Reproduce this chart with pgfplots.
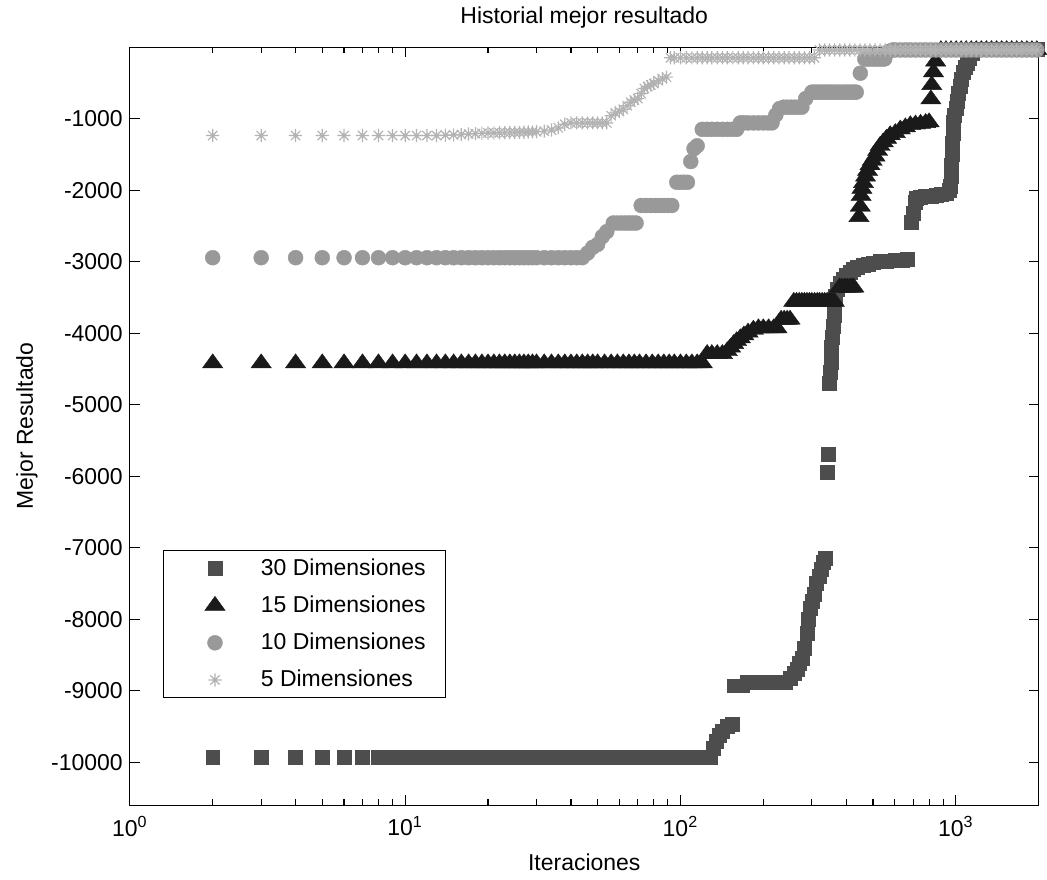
\documentclass[border=0pt]{standalone}
\usepackage{fontspec}
\setmainfont{Liberation Sans}
\usepackage{pgfplots}
\pgfplotsset{compat=1.18}
\definecolor{cA}{HTML}{4D4D4D}
\definecolor{cB}{HTML}{1A1A1A}
\definecolor{cC}{HTML}{999999}
\definecolor{cD}{HTML}{B3B3B3}
\newcommand\fs{\fontsize{11.5}{13}\selectfont}
% MATLAB-like asterisk: plus and cross
\pgfdeclareplotmark{mstar}{%
  \pgfpathmoveto{\pgfqpoint{0pt}{\pgfplotmarksize}}\pgfpathlineto{\pgfqpoint{0pt}{-\pgfplotmarksize}}%
  \pgfpathmoveto{\pgfqpoint{\pgfplotmarksize}{0pt}}\pgfpathlineto{\pgfqpoint{-\pgfplotmarksize}{0pt}}%
  \pgfpathmoveto{\pgfqpoint{0.707\pgfplotmarksize}{0.707\pgfplotmarksize}}\pgfpathlineto{\pgfqpoint{-0.707\pgfplotmarksize}{-0.707\pgfplotmarksize}}%
  \pgfpathmoveto{\pgfqpoint{-0.707\pgfplotmarksize}{0.707\pgfplotmarksize}}\pgfpathlineto{\pgfqpoint{0.707\pgfplotmarksize}{-0.707\pgfplotmarksize}}%
  \pgfusepathqstroke}
\begin{document}
\begin{tikzpicture}
\begin{axis}[name=ax,
  xmode=log, scale only axis, width=455pt, height=379.5pt,
  xmin=1, xmax=2000, ymin=-10600, ymax=0,
  scaled ticks=false,
  xtick={1,10,100,1000},
  xticklabels={10\textsuperscript{0},10\textsuperscript{1},10\textsuperscript{2},10\textsuperscript{3}},
  minor xtick={2,3,4,5,6,7,8,9,20,30,40,50,60,70,80,90,200,300,400,500,600,700,800,900},
  ytick={-10000,-9000,-8000,-7000,-6000,-5000,-4000,-3000,-2000,-1000},
  yticklabels={-10000,-9000,-8000,-7000,-6000,-5000,-4000,-3000,-2000,-1000},
  tick align=inside, tick pos=both,
  major tick length=5pt, minor tick length=3pt,
  tick style={black, line width=0.6pt},
  axis line style={line width=0.6pt},
  tick label style={font=\fs}, label style={font=\fs}, title style={font=\fs},
  xticklabel style={yshift=-2pt},
  title={Historial mejor resultado},
  xlabel={Iteraciones}, ylabel={Mejor Resultado},
  xlabel style={yshift=-2pt},
  clip=false, axis on top,
  legend style={at={(0.036,0.141)}, anchor=south west, draw=black, line width=0.5pt,
    fill=white, font=\fs, row sep=4.75pt, inner xsep=8pt, inner ysep=2pt},
  legend cell align=left,
  legend image code/.code={\path[draw=none,fill=none] (0pt,-3pt) rectangle (39pt,3pt);
    \draw[#1,mark repeat=2,mark phase=2] plot coordinates {(0pt,0pt) (18pt,0pt) (39pt,0pt)};},
]
% 30 Dimensiones
\addplot[only marks, mark=square*, mark size=3.5pt, color=cA, mark options={line width=0.2pt}] coordinates {
(2,-9930)(3,-9930)(4,-9930)(5,-9930)(6,-9930)(7,-9930)(8,-9930)(9,-9930)(10,-9930)(11,-9930)(12,-9930)(13,-9930)(14,-9930)(15,-9930)(16,-9930)(17,-9930)(18,-9930)(19,-9930)(20,-9930)(21,-9930)(22,-9930)(23,-9930)(24,-9930)(25,-9930)(26,-9930)(27,-9930)(28,-9930)(29,-9930)(30,-9930)
(32,-9930)(34,-9930)(36,-9930)(38,-9930)(40,-9930)(42,-9930)(44,-9930)(46,-9930)(48,-9930)(50,-9930)(53,-9930)(56,-9930)(59,-9930)(62,-9930)(65,-9930)(68,-9930)(71,-9930)(75,-9930)(79,-9930)(83,-9930)(87,-9930)(91,-9930)(95,-9930)(100,-9930)(105,-9930)(110,-9930)(115,-9930)(120,-9930)(125,-9930)(128,-9930)
(132,-9800)(135,-9700)(138,-9620)(142,-9560)(148,-9500)(154,-9470)
(157,-8930)(162,-8930)(168,-8930)(174,-8880)(180,-8880)(186,-8880)(192,-8880)(200,-8880)(207,-8880)(214,-8880)(221,-8880)(228,-8880)(235,-8880)(241,-8880)
(250,-8820)(259,-8760)(265,-8700)(270,-8620)(276,-8540)(282,-8400)(288,-8200)(292,-8000)(296,-7850)(300,-7750)(306,-7650)(312,-7500)(318,-7400)(324,-7300)(330,-7200)(336,-7150)
(342,-5940)(344,-5690)
(348,-4700)(350,-4550)(352,-4400)(354,-4200)(356,-4050)(358,-3900)(361,-3750)(363,-3600)(365,-3480)(372,-3380)(380,-3300)(390,-3240)(400,-3190)(412,-3150)(425,-3110)(440,-3080)(460,-3050)(480,-3030)(500,-3015)(530,-3000)(560,-2990)(600,-2980)(640,-2975)(665,-2970)
(690,-2450)(700,-2320)(711,-2170)(720,-2110)(745,-2100)(777,-2090)(811,-2080)(846,-2070)(883,-2060)(921,-2050)(950,-2000)
(957,-1950)(962,-1800)(966,-1650)(970,-1500)(974,-1350)(978,-1200)(982,-1050)(990,-950)(1000,-850)(1010,-750)(1022,-650)(1035,-550)(1050,-450)(1065,-350)(1080,-280)(1100,-220)(1120,-150)(1150,-80)
(1187,-30)(1238,-30)(1292,-30)(1348,-30)(1406,-30)(1467,-30)(1530,-30)(1596,-30)(1665,-30)(1737,-30)(1812,-30)(1890,-30)(1970,-30)
};
\addlegendentry{30 Dimensiones}
% 15 Dimensiones
\addplot[only marks, mark=triangle*, mark size=4.7pt, color=cB, mark options={xscale=1.25, line width=0.2pt}] coordinates {
(2,-4420)(3,-4420)(4,-4420)(5,-4420)(6,-4420)(7,-4420)(8,-4420)(9,-4420)(10,-4420)(11,-4420)(12,-4420)(13,-4420)(14,-4420)(15,-4420)(16,-4420)(17,-4420)(18,-4420)(19,-4420)(20,-4420)(21,-4420)(22,-4420)(23,-4420)(24,-4420)(25,-4420)(26,-4420)(27,-4420)(28,-4420)(29,-4420)(30,-4420)
(32,-4420)(34,-4420)(36,-4420)(38,-4420)(40,-4420)(42,-4420)(44,-4420)(46,-4420)(48,-4420)(50,-4420)(53,-4420)(56,-4420)(59,-4420)(62,-4420)(65,-4420)(68,-4420)(71,-4420)(75,-4420)(79,-4420)(83,-4420)(87,-4420)(91,-4420)(95,-4420)(100,-4420)(105,-4420)(110,-4420)(115,-4420)(120,-4420)
(125,-4290)(130,-4290)(136,-4290)(142,-4290)(148,-4250)(152,-4200)(156,-4150)(160,-4110)(165,-4070)(170,-4030)(176,-3990)(184,-3950)
(192,-3930)(200,-3930)(209,-3930)(218,-3930)(224,-3930)
(232,-3810)(238,-3810)(244,-3810)(250,-3810)
(258,-3560)(264,-3560)(270,-3560)(276,-3560)(282,-3560)(288,-3560)(294,-3560)(300,-3560)(307,-3560)(314,-3560)(320,-3560)(327,-3560)(334,-3560)(341,-3560)(348,-3560)(355,-3560)(362,-3560)
(378,-3360)(386,-3360)(395,-3360)(403,-3360)(412,-3360)(420,-3360)(426,-3360)
(445,-2375)(450,-2230)(453,-2080)(456,-1980)(462,-1900)(470,-1810)(478,-1730)(488,-1650)(497,-1590)(509,-1530)(520,-1450)(531,-1380)(545,-1330)(560,-1280)(578,-1230)(603,-1200)(629,-1150)(656,-1120)(684,-1090)(714,-1080)(745,-1070)(777,-1060)(800,-1050)
(812,-730)(818,-530)(830,-350)(845,-200)
(883,-40)(921,-40)(961,-40)(1003,-40)(1046,-40)(1091,-40)(1138,-40)(1187,-40)(1238,-40)(1292,-40)(1348,-40)(1406,-40)(1467,-40)(1530,-40)(1596,-40)(1665,-40)(1737,-40)(1812,-40)(1890,-40)(1970,-40)
};
\addlegendentry{15 Dimensiones}
% 10 Dimensiones
\addplot[only marks, mark=*, mark size=3.75pt, color=cC, mark options={line width=0.2pt}] coordinates {
(2,-2945)(3,-2945)(4,-2945)(5,-2945)(6,-2945)(7,-2945)(8,-2945)(9,-2945)(10,-2945)(11,-2945)(12,-2945)(13,-2945)(14,-2945)(15,-2945)(16,-2945)(17,-2945)(18,-2945)(19,-2945)(20,-2945)(21,-2945)(22,-2945)(23,-2945)(24,-2945)(25,-2945)(26,-2945)(27,-2945)(28,-2945)(29,-2945)(30,-2945)
(32,-2945)(34,-2945)(36,-2945)(38,-2945)(40,-2945)(42,-2945)(44,-2945)
(46,-2880)(48,-2800)(50,-2760)(52,-2650)(54,-2580)
(57,-2460)(59,-2460)(61,-2460)(63,-2460)(65,-2460)(67,-2460)(69,-2460)
(72,-2215)(75,-2215)(78,-2215)(81,-2215)(84,-2215)(87,-2215)(90,-2215)(93,-2215)
(97,-1890)(100,-1890)(103,-1890)(106,-1890)
(109,-1600)(112,-1420)(115,-1380)
(120,-1150)(125,-1150)(130,-1150)(136,-1150)(142,-1150)(148,-1150)(154,-1150)(160,-1150)
(165,-1060)(170,-1060)(176,-1060)(184,-1060)(192,-1060)(200,-1060)(208,-1060)(215,-1060)
(222,-950)(229,-860)
(237,-840)(244,-840)(252,-840)(260,-840)(268,-840)(276,-840)
(285,-720)
(300,-630)(307,-630)(314,-630)(320,-630)(327,-630)(334,-630)(341,-630)(348,-630)(355,-630)(363,-630)(371,-630)(379,-630)(387,-630)(395,-630)(403,-630)(412,-630)(420,-630)(428,-630)(435,-630)
(450,-365)
(467,-165)(475,-165)(483,-165)(491,-165)(500,-165)(509,-165)(518,-165)(527,-165)(536,-165)(545,-165)(552,-165)
(570,-60)
(590,-40)(603,-40)(629,-40)(656,-40)(684,-40)(714,-40)(745,-40)(777,-40)(811,-40)(846,-40)(883,-40)(921,-40)(961,-40)(1003,-40)(1046,-40)(1091,-40)(1138,-40)(1187,-40)(1238,-40)(1292,-40)(1348,-40)(1406,-40)(1467,-40)(1530,-40)(1596,-40)(1665,-40)(1737,-40)(1812,-40)(1890,-40)(1970,-40)
};
\addlegendentry{10 Dimensiones}
% 5 Dimensiones
\addplot[only marks, mark=mstar, mark size=3.3pt, color=cD, mark options={line width=0.6pt}] coordinates {
(2,-1237)(3,-1237)(4,-1237)(5,-1237)(6,-1237)(7,-1237)(8,-1237)(9,-1237)(10,-1237)(11,-1237)(12,-1237)(13,-1237)
(14,-1232)(15,-1228)(16,-1222)(17,-1215)(18,-1210)(19,-1205)(20,-1200)(21,-1200)(22,-1198)(23,-1196)(24,-1195)(25,-1193)(26,-1192)(27,-1190)(28,-1187)(29,-1185)(30,-1183)(32,-1175)(34,-1160)(36,-1130)(38,-1080)
(40,-1060)(42,-1060)(44,-1060)(46,-1060)(48,-1060)(50,-1060)(52,-1060)(54,-1060)
(56,-960)(58,-920)(60,-900)(62,-870)(64,-820)(66,-770)(68,-740)(70,-720)(72,-650)(74,-580)(76,-550)(78,-530)(80,-510)(83,-470)(86,-440)(89,-420)
(92,-150)(95,-150)(100,-150)(105,-150)(110,-150)(115,-150)(120,-150)(125,-150)(130,-150)(136,-150)(142,-150)(148,-150)(155,-150)(162,-150)(169,-150)(176,-150)(184,-150)(192,-150)(200,-150)(209,-150)(218,-150)(228,-150)(238,-150)(248,-150)(259,-150)(270,-150)(282,-150)(294,-150)(307,-150)
(320,-40)(334,-40)(348,-40)(363,-40)(379,-40)(395,-40)(412,-40)(430,-40)(449,-40)(468,-40)(488,-40)(509,-40)(531,-40)(554,-40)(578,-40)(603,-40)(629,-40)(656,-40)(684,-40)(714,-40)(745,-40)(777,-40)(811,-40)(846,-40)(883,-40)(921,-40)(961,-40)(1003,-40)(1046,-40)(1091,-40)(1138,-40)(1187,-40)(1238,-40)(1292,-40)(1348,-40)(1406,-40)(1467,-40)(1530,-40)(1596,-40)(1665,-40)(1737,-40)(1812,-40)(1890,-40)(1970,-40)
};
\addlegendentry{5 Dimensiones}
\end{axis}
\path (ax.south west) +(-65pt,-37pt);
\path (ax.north east) +(3.5pt,23.5pt);
\end{tikzpicture}
\end{document}
